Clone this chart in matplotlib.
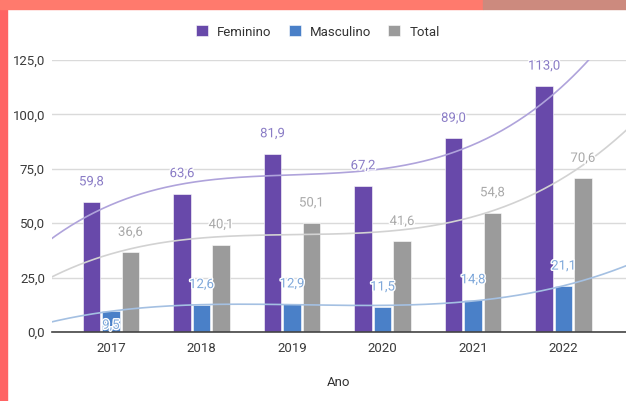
import numpy as np
import matplotlib.pyplot as plt
import matplotlib.patheffects as pe
from matplotlib.patches import Rectangle

plt.rcParams['font.family'] = ['Roboto', 'DejaVu Sans']

# data
anos = ['2017', '2018', '2019', '2020', '2021', '2022']
feminino = [59.8, 63.6, 81.9, 67.2, 89.0, 113.0]
masculino = [9.5, 12.6, 12.9, 11.5, 14.8, 21.1]
total = [36.6, 40.1, 50.1, 41.6, 54.8, 70.6]
y_ticks = [0, 25, 50, 75, 100, 125]

bar_cols = ['#6849AA', '#4A80C8', '#9B9B9B']
trend_cols = ['#AFA3DB', '#A4C0E2', '#D2D2D2']
label_cols = ['#8A7CC6', '#7FA8DA', '#A9A9A9']
nomes = ['Feminino', 'Masculino', 'Total']


def fmt(v):
    return f"{v:.1f}".replace('.', ',')


W, H = 626, 401
fig = plt.figure(figsize=(W / 100, H / 100), dpi=100)
fig.patch.set_facecolor('white')

# coral frame on the left and top
fig.patches.append(Rectangle((0, 0), 7 / W, 1, transform=fig.transFigure,
                             color='#FF6464', zorder=10))
fig.patches.append(Rectangle((0, 1 - 9 / H), 483 / W, 9 / H, transform=fig.transFigure,
                             color='#FF7A6D', zorder=10))
fig.patches.append(Rectangle((483 / W, 1 - 9 / H), 1 - 483 / W, 9 / H,
                             transform=fig.transFigure, color='#CC8A7E', zorder=10))

ax = fig.add_axes([52 / W, 69 / H, 1 - 52 / W, 272 / H])

x = np.arange(len(anos))
step = 0.215
width = 0.19
series = [feminino, masculino, total]

for k, vals in enumerate(series):
    pos = x + (k - 1) * step
    ax.bar(pos, vals, width, color=bar_cols[k], label=nomes[k], zorder=2,
           edgecolor='white', linewidth=0.4)
    for xi, v in zip(pos, vals):
        off = 20 if v >= 10 else -14
        ax.annotate(fmt(v), (xi, v), xytext=(0, off), textcoords='offset pixels',
                    ha='center', va='center', fontsize=9.5, color=label_cols[k],
                    zorder=5,
                    path_effects=[pe.withStroke(linewidth=2, foreground='white')])

# cubic trendlines
xs = np.linspace(-0.7, 5.8, 300)
for k, vals in enumerate(series):
    coef = np.polyfit(x, vals, 3)
    ax.plot(xs, np.polyval(coef, xs), color=trend_cols[k], lw=1.2, zorder=3)

ax.set_xlim(-0.652, 5.69)
ax.set_ylim(0, 125)
ax.set_yticks(y_ticks)
ax.set_yticklabels([fmt(v) for v in y_ticks])
ax.set_xticks(x)
ax.set_xticklabels(anos)
ax.tick_params(length=0, labelsize=9.5, labelcolor='#3A3A3A')
ax.tick_params(axis='y', pad=5)
ax.tick_params(axis='x', pad=7)
ax.grid(axis='y', color='#DADADA', lw=1, zorder=0)
ax.set_axisbelow(True)
for s in ['top', 'right', 'left']:
    ax.spines[s].set_visible(False)
ax.spines['bottom'].set_color('#444444')
ax.spines['bottom'].set_linewidth(1.2)
ax.spines['bottom'].set_zorder(4)

ax.set_xlabel('Ano', fontsize=9.5, color='#333333', labelpad=15)

fig.legend(loc='center', bbox_to_anchor=(318 / W, 1 - 32 / H), ncol=3, frameon=False,
           fontsize=9.5, handlelength=0.9, handleheight=0.9, handletextpad=0.7,
           columnspacing=1.3, labelcolor='#333333')

fig.savefig('out.png', dpi=100)
